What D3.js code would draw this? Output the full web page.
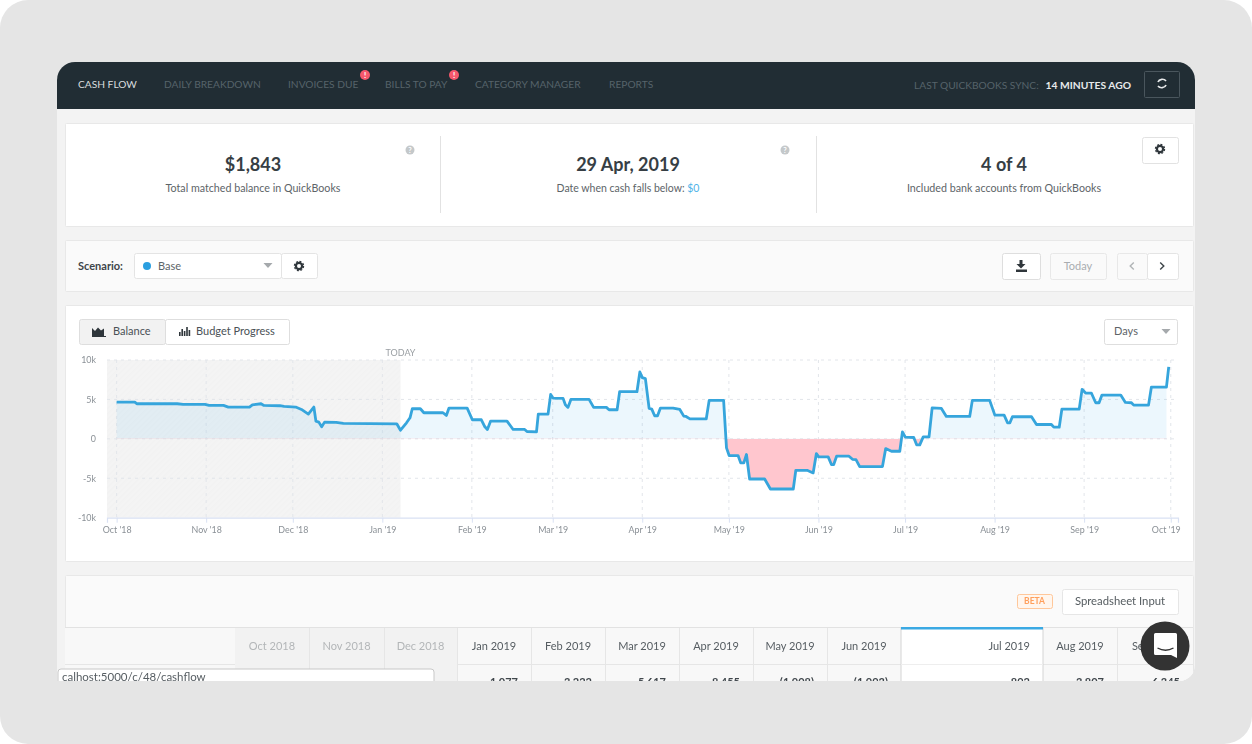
<!DOCTYPE html>
<html lang="en">
<head>
    <meta charset="UTF-8">
    <title>Cash Flow</title>
    <script src="https://d3js.org/d3.v7.min.js"></script>
    <style>
        body {
            margin: 0;
            background-color: #fff;
        }
        svg {
            display: block;
            font-family: Lato, sans-serif;
            filter: blur(0.7px);
        }
        .grid line {
            stroke: #e2e5ea;
            stroke-dasharray: 3 4;
        }
        .axis text {
            font-family: Lato, sans-serif;
            font-size: 8.9px;
            fill: #8a9096;
        }
    </style>
</head>
<body>
    <svg width="1252" height="744"></svg>

    <script>
        const startDate = new Date(2018, 9, 1);
        const todayDay = 98.3;

        // days since 1 Oct 2018
        const balanceDays = [
            0, 6.3, 7, 21, 23, 30.6, 32, 37, 38.7, 46, 47, 50, 51, 56.5, 58, 62, 64, 66.4, 68.3, 69,
            70, 71, 72, 76, 78.5, 97, 98.3, 100.4, 101.6, 102.4, 105.2, 106.4, 113, 114.2, 115.1, 121.4, 123.2, 126.3, 127.5, 128.4,
            129.5, 135.2, 137.3, 141.3, 142.1, 145.4, 146, 149.4, 150.3, 151.1, 154.6, 155.4, 156.3, 157.3, 163.6, 165.2, 169.6, 170.5, 173.3, 174.2,
            180.2, 181.2, 182, 183.1, 184.4, 185.3, 186.3, 187.3, 188.3, 192.7, 195, 196.4, 197.2, 198.5, 204.2, 205.2, 210.2, 211.2, 212.1, 215.2,
            216.1, 217.2, 218.1, 219.2, 224.4, 226.4, 234.3, 235.2, 239.1, 241.2, 242.3, 243.1, 246.4, 247.5, 248.3, 249.3, 253.6, 254.8, 256, 257.3,
            265.2, 266.3, 268.3, 271.2, 272.1, 273.1, 276, 277, 278.1, 279.3, 281.3, 282.4, 285.6, 287.3, 295.4, 296.3, 302.3, 304.1, 307.3, 308.5,
            309.3, 310.2, 316.8, 318.5, 323.7, 324.5, 326.4, 327.3, 333.3, 334.3, 335.5, 337.5, 339, 340.2, 341.2, 347.7, 349.3, 351.4, 352.2, 357.3,
            358.3, 363.5, 364.3
        ];
        const balanceValues = [
            4660, 4660, 4450, 4450, 4370, 4370, 4240, 4240, 4030, 4030, 4320, 4450, 4240, 4200, 4110, 4030, 3730, 3140, 4030, 2250,
            2120, 1530, 2120, 2080, 1950, 1910, 1100, 2035, 2670, 3820, 3820, 3310, 3310, 2970, 3900, 3900, 2420, 2420, 1530, 1190,
            2250, 2250, 1190, 1190, 930, 890, 3140, 3140, 5640, 5170, 5130, 4320, 3990, 5000, 5000, 3990, 3990, 3690, 3690, 5980,
            5980, 8480, 7760, 7630, 3860, 3770, 2930, 2930, 3900, 3900, 3730, 2880, 2840, 2540, 2540, 4880, 4880, -1145, -2120, -2120,
            -3050, -3050, -1990, -5090, -5090, -6360, -6360, -3990, -3990, -4320, -1870, -2290, -2290, -3260, -3260, -2200, -2200, -2590, -2630, -3520,
            -3520, -1230, -1570, -1570, 890, 210, 170, -760, -760, 250, 250, 3940, 3860, 2840, 2840, 4880, 4880, 3010, 3010, 2035,
            2035, 2800, 2800, 1820, 1820, 1480, 1480, 3770, 3770, 6280, 5810, 5810, 4580, 4580, 5550, 5550, 4620, 4580, 4280, 4280,
            6570, 6570, 9120
        ];

        const yTicks = [-10000, -5000, 0, 5000, 10000];
        const navItems = ["CASH FLOW", "DAILY BREAKDOWN", "INVOICES DUE", "BILLS TO PAY", "CATEGORY MANAGER", "REPORTS"];
        const navX = [78, 164, 288, 385, 475, 609];
        const tableMonths = ["Oct 2018", "Nov 2018", "Dec 2018", "Jan 2019", "Feb 2019", "Mar 2019", "Apr 2019", "May 2019", "Jun 2019", "Jul 2019", "Aug 2019", "Sep 2019"];
        const tableValues = ["", "", "", "1,077", "3,222", "5,617", "8,455", "(1,908)", "(1,993)", "892", "3,807", "6,345"];
        const tableEdges = [235, 309, 384, 457, 531, 605, 679, 753, 827, 901, 1043, 1117, 1193];

        const svg = d3.select("svg");
        const defs = svg.append("defs");

        const dateOf = day => d3.timeHour.offset(startDate, day * 24);
        const balance = balanceDays.map((day, i) => ({ date: dateOf(day), value: balanceValues[i] }));

        // helpers for the app chrome
        function box(parent, x, y, w, h, fill, stroke, r) {
            return parent.append("rect")
                .attr("x", x + 0.5).attr("y", y + 0.5)
                .attr("width", w).attr("height", h)
                .attr("rx", r === undefined ? 2 : r)
                .attr("fill", fill)
                .attr("stroke", stroke || "none");
        }

        function label(parent, x, y, str, size, color, anchor, weight) {
            return parent.append("text")
                .attr("x", x).attr("y", y)
                .attr("font-size", size)
                .attr("fill", color)
                .attr("text-anchor", anchor || "start")
                .attr("font-weight", weight || 400)
                .text(str);
        }

        function gear(parent, cx, cy, color) {
            parent.append("circle").attr("cx", cx).attr("cy", cy).attr("r", 3.1)
                .attr("fill", "none").attr("stroke", color).attr("stroke-width", 2.2);
            parent.append("circle").attr("cx", cx).attr("cy", cy).attr("r", 4.6)
                .attr("fill", "none").attr("stroke", color).attr("stroke-width", 1.2).attr("stroke-dasharray", "2 1.6");
        }

        function help(parent, cx, cy) {
            parent.append("circle").attr("cx", cx).attr("cy", cy).attr("r", 4.5).attr("fill", "#c4c8ca");
            label(parent, cx, cy + 2.8, "?", 7.5, "#fff", "middle", 700);
        }

        function chevron(parent, cx, cy, dir, color) {
            parent.append("path")
                .attr("d", d3.line()([[cx - dir * 1.8, cy - 3.5], [cx + dir * 1.8, cy], [cx - dir * 1.8, cy + 3.5]]))
                .attr("fill", "none").attr("stroke", color).attr("stroke-width", 1.4);
        }

        function caret(parent, cx, cy, color) {
            parent.append("path")
                .attr("d", d3.line()([[cx - 4.5, cy - 2], [cx + 4.5, cy - 2], [cx, cy + 3]]) + "Z")
                .attr("fill", color);
        }

        // page and window
        svg.append("rect").attr("width", 1252).attr("height", 744).attr("rx", 28).attr("fill", "#e5e5e5");

        defs.append("clipPath").attr("id", "window-clip")
            .append("path")
            .attr("d", "M57,80 a18,18 0 0 1 18,-18 H1177 a18,18 0 0 1 18,18 V665 a16,16 0 0 1 -16,16 H57 Z");

        const win = svg.append("g").attr("clip-path", "url(#window-clip)");
        win.append("rect").attr("x", 57).attr("y", 62).attr("width", 1138).attr("height", 620).attr("fill", "#f3f3f3");

        // nav bar
        win.append("rect").attr("x", 57).attr("y", 62).attr("width", 1138).attr("height", 47).attr("fill", "#212d34");
        navItems.forEach((d, i) => {
            label(win, navX[i], 88, d, 10.2, i === 0 ? "#d9dddf" : "#56636a");
        });
        [365, 454].forEach(cx => {
            win.append("circle").attr("cx", cx).attr("cy", 75).attr("r", 5).attr("fill", "#f5586c");
            label(win, cx, 78, "!", 8, "#fff", "middle", 700);
        });
        label(win, 914, 89, "LAST QUICKBOOKS SYNC:", 10.2, "#56636a");
        label(win, 1131, 89, "14 MINUTES AGO", 10.3, "#e8eaeb", "end", 700);
        box(win, 1144, 71, 35, 26, "none", "#4a565d", 1);
        win.append("path")
            .attr("d", "M1158,82 a4.5,4 0 0 1 8,-1 M1166,85 a4.5,4 0 0 1 -8,1")
            .attr("fill", "none").attr("stroke", "#e8eaeb").attr("stroke-width", 1.7);

        // summary card
        box(win, 65, 123, 1128, 103, "#fff", "#e8e8e8", 1);
        win.selectAll(".divider").data([440, 816]).join("line")
            .attr("x1", d => d + 0.5).attr("x2", d => d + 0.5)
            .attr("y1", 136).attr("y2", 213)
            .attr("stroke", "#e2e2e2");
        label(win, 253, 171, "$1,843", 18, "#363e44", "middle", 700);
        label(win, 253, 192, "Total matched balance in QuickBooks", 10.7, "#5d6468", "middle");
        label(win, 628, 171, "29 Apr, 2019", 18, "#363e44", "middle", 700);
        const belowText = label(win, 628, 192, "Date when cash falls below: ", 10.5, "#5d6468", "middle");
        belowText.append("tspan").attr("fill", "#4fb3e8").text("$0");
        label(win, 1004, 171, "4 of 4", 18, "#363e44", "middle", 700);
        label(win, 1004, 192, "Included bank accounts from QuickBooks", 10.7, "#5d6468", "middle");
        help(win, 410, 150);
        help(win, 785, 150);
        box(win, 1142, 137, 36, 26, "#fff", "#e2e2e2");
        gear(win, 1160, 149, "#2f363b");

        // scenario bar
        box(win, 65, 240, 1128, 51, "#fafafa", "#e8e8e8", 1);
        label(win, 78, 270, "Scenario:", 11, "#3d4449", "start", 700);
        box(win, 134, 253, 147, 25, "#fff", "#e4e4e4");
        win.append("circle").attr("cx", 147).attr("cy", 266).attr("r", 4).attr("fill", "#2a9fe0");
        label(win, 158, 270, "Base", 11, "#5d6468");
        caret(win, 268, 265, "#a5a9ac");
        box(win, 281, 253, 36, 25, "#fff", "#e4e4e4");
        gear(win, 299, 266, "#2f363b");
        box(win, 1002, 253, 38, 26, "#fff", "#dedede");
        win.append("path")
            .attr("d", "M1019.5,260 h3 v4 h3 l-4.5,4.5 l-4.5,-4.5 h3 Z M1016,269.5 h11 v2.5 h-11 Z")
            .attr("fill", "#2f363b");
        box(win, 1050, 253, 56, 26, "#fafafa", "#e8e8e8");
        label(win, 1078, 270, "Today", 11, "#a9adb0", "middle");
        box(win, 1117, 253, 30, 26, "#fafafa", "#e8e8e8");
        box(win, 1147, 253, 31, 26, "#fff", "#e4e4e4");
        chevron(win, 1132, 266, -1, "#b0b4b6");
        chevron(win, 1162, 266, 1, "#3d4449");

        // chart card
        box(win, 65, 305, 1128, 256, "#fff", "#e8e8e8", 1);
        box(win, 79, 319, 86, 25, "#f2f2f2", "#dedede");
        box(win, 165, 319, 124, 25, "#fff", "#dedede");
        win.append("path")
            .attr("d", "M92,336 v-8 l3,3 l3,-3.5 l3,3 l3,-2 v7.5 h2 v1 h-14 Z")
            .attr("fill", "#2f363b");
        label(win, 113, 335, "Balance", 11, "#4a5156");
        win.selectAll(".mini-bar").data([4, 7, 5, 9, 6]).join("rect")
            .attr("x", (d, i) => 179 + i * 2.4)
            .attr("y", d => 336 - d)
            .attr("width", 1.6)
            .attr("height", d => d)
            .attr("fill", "#2f363b");
        label(win, 196, 335, "Budget Progress", 11, "#4a5156");
        box(win, 1104, 319, 73, 25, "#fff", "#dedede");
        label(win, 1114, 335, "Days", 11, "#5d6468");
        caret(win, 1166, 331, "#a5a9ac");

        // chart scales
        const x = d3.scaleTime()
            .domain([dateOf(-3.3), dateOf(367.5)])
            .range([107, 1178]);
        const y = d3.scaleLinear()
            .domain([-10000, 10000])
            .range([517.7, 360]);
        const [plotLeft, plotRight] = x.range();

        const chart = win.append("g");

        // past period shading
        const hatch = defs.append("pattern").attr("id", "past-hatch")
            .attr("width", 4).attr("height", 4)
            .attr("patternUnits", "userSpaceOnUse")
            .attr("patternTransform", "rotate(-45)");
        hatch.append("rect").attr("width", 4).attr("height", 4).attr("fill", "#f4f4f4");
        hatch.append("rect").attr("width", 4).attr("height", 1.5).attr("fill", "#f2f2f2");

        chart.append("rect")
            .attr("x", plotLeft)
            .attr("y", y(10000))
            .attr("width", x(dateOf(todayDay)) - plotLeft)
            .attr("height", y(-10000) - y(10000))
            .attr("fill", "url(#past-hatch)");

        // grid
        const monthTicks = d3.timeMonth.range(startDate, d3.timeDay.offset(new Date(2019, 9, 1), 1));
        const grid = chart.append("g").attr("class", "grid");
        grid.selectAll(".h").data(yTicks.filter(d => d !== -10000)).join("line")
            .attr("x1", plotLeft).attr("x2", plotRight)
            .attr("y1", d => y(d)).attr("y2", d => y(d));
        grid.selectAll(".v").data(monthTicks).join("line")
            .attr("x1", d => x(d)).attr("x2", d => x(d))
            .attr("y1", y(10000)).attr("y2", y(-10000));

        // positive / negative fill, split at zero
        defs.append("clipPath").attr("id", "above-zero").append("rect")
            .attr("x", plotLeft).attr("y", y(10000))
            .attr("width", plotRight - plotLeft).attr("height", y(0) - y(10000));
        defs.append("clipPath").attr("id", "below-zero").append("rect")
            .attr("x", plotLeft).attr("y", y(0))
            .attr("width", plotRight - plotLeft).attr("height", y(-10000) - y(0));

        const area = d3.area()
            .x(d => x(d.date))
            .y0(y(0))
            .y1(d => y(d.value));

        // the fill stops before the last jump of the line
        const areaData = balance.slice(0, -1);
        chart.append("path").datum(areaData)
            .attr("d", area)
            .attr("fill", "#29a3e6").attr("fill-opacity", 0.09)
            .attr("clip-path", "url(#above-zero)");
        chart.append("path").datum(areaData)
            .attr("d", area)
            .attr("fill", "#ffc6ce")
            .attr("clip-path", "url(#below-zero)");

        chart.append("path").datum(balance)
            .attr("d", d3.line().x(d => x(d.date)).y(d => y(d.value)))
            .attr("fill", "none")
            .attr("stroke", "#36a5dc")
            .attr("stroke-width", 2.8)
            .attr("stroke-linejoin", "round");

        // axes
        const yAxis = chart.append("g").attr("class", "axis")
            .attr("transform", `translate(${plotLeft},0)`)
            .call(d3.axisLeft(y)
                .tickValues(yTicks)
                .tickSize(0)
                .tickPadding(11)
                .tickFormat(d => d === 0 ? "0" : `${d / 1000}k`));
        yAxis.select(".domain").remove();

        const xAxis = chart.append("g").attr("class", "axis")
            .attr("transform", `translate(0,${y(-10000)})`)
            .call(d3.axisBottom(x)
                .tickValues(monthTicks)
                .tickSize(5)
                .tickPadding(4)
                .tickFormat(d3.timeFormat("%b '%y")));
        xAxis.select(".domain").attr("stroke", "#d9e1f3").attr("stroke-width", 1.2);
        xAxis.selectAll(".tick line").attr("stroke", "#d9e1f3");
        xAxis.selectAll(".tick:last-of-type text").attr("dx", -5);

        label(chart, x(dateOf(todayDay)), 356, "TODAY", 9, "#9a9fa3", "middle");

        // table card
        box(win, 65, 575, 1128, 120, "#fafafa", "#e8e8e8", 1);
        box(win, 1017, 594, 35, 14, "#fff6ee", "#ffc79a", 2);
        label(win, 1034.5, 604, "BETA", 8.5, "#ff9f5c", "middle", 700);
        box(win, 1062, 589, 116, 25, "#fff", "#e6e6e6");
        label(win, 1120, 605, "Spreadsheet Input", 11.3, "#555c60", "middle");

        win.append("rect").attr("x", 65).attr("y", 628).attr("width", 1128).attr("height", 60).attr("fill", "#f8f8f8");
        win.append("line").attr("x1", 65).attr("x2", 1193).attr("y1", 627.5).attr("y2", 627.5).attr("stroke", "#e2e2e2");
        win.append("line").attr("x1", 65).attr("x2", 1193).attr("y1", 664.5).attr("y2", 664.5).attr("stroke", "#e6e6e6");
        win.append("rect").attr("x", 235).attr("y", 628).attr("width", 222).attr("height", 60).attr("fill", "#f2f2f2");

        tableMonths.forEach((month, i) => {
            const left = tableEdges[i];
            const right = tableEdges[i + 1];
            const current = month === "Jul 2019";
            if (current) {
                win.append("rect").attr("x", left).attr("y", 628).attr("width", right - left).attr("height", 60)
                    .attr("fill", "#fff").attr("stroke", "#d4d4d4");
                win.append("rect").attr("x", left).attr("y", 627).attr("width", right - left).attr("height", 2.5)
                    .attr("fill", "#3aa9e3");
                win.append("line").attr("x1", left).attr("x2", right).attr("y1", 664.5).attr("y2", 664.5).attr("stroke", "#eee");
            } else {
                win.append("line").attr("x1", right + 0.5).attr("x2", right + 0.5).attr("y1", 628).attr("y2", 688).attr("stroke", "#e6e6e6");
            }
            const textColor = i < 3 ? "#b3b6b8" : "#565d62";
            if (current) {
                label(win, right - 13, 650, month, 11, textColor, "end");
            } else {
                label(win, (left + right) / 2, 650, month, 11, textColor, "middle");
            }
            label(win, right - 13, 686, tableValues[i], 11, "#40474c", "end", 700);
        });

        // url tooltip over the bottom left corner
        const tip = svg.append("g").attr("clip-path", "url(#window-clip)");
        tip.append("rect").attr("x", 58).attr("y", 669).attr("width", 376).attr("height", 20).attr("rx", 3)
            .attr("fill", "#fff").attr("stroke", "#c8c8c8");
        label(tip, 62, 681, "calhost:5000/c/48/cashflow", 11.5, "#565d62");

        // chat bubble
        const chat = svg.append("g");
        chat.append("circle").attr("cx", 1165).attr("cy", 646).attr("r", 24.5).attr("fill", "#333");
        chat.append("path")
            .attr("d", "M1155.5,633 h20 a1.5,1.5 0 0 1 1.5,1.5 v23.5 l-6,-3 h-15.5 a1.5,1.5 0 0 1 -1.5,-1.5 v-19 a1.5,1.5 0 0 1 1.5,-1.5 Z")
            .attr("fill", "#fff");
        chat.append("path")
            .attr("d", "M1157.5,648 q8,4.5 16,0")
            .attr("fill", "none").attr("stroke", "#333").attr("stroke-width", 1.3);
    </script>
</body>
</html>
